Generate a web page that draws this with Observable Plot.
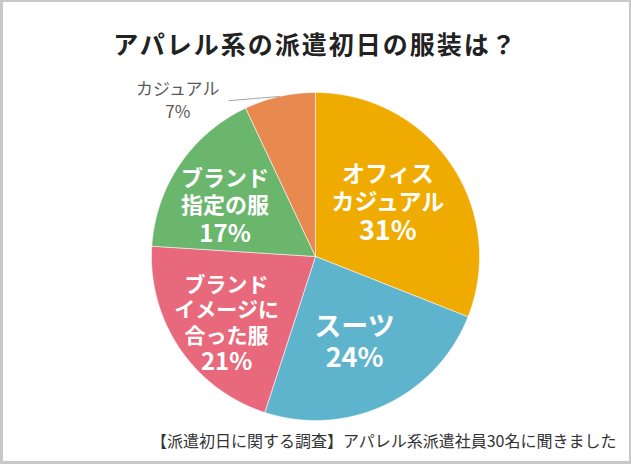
<!DOCTYPE html>
<html>
<head>
<meta charset="utf-8">
<script src="https://cdn.jsdelivr.net/npm/d3@7"></script>
<script src="https://cdn.jsdelivr.net/npm/@observablehq/plot@0.6"></script>
<style>
  html, body { margin: 0; padding: 0; background: #fff; }
  #wrap { position: relative; width: 631px; height: 464px; overflow: hidden; font-family: "Noto Sans CJK JP", sans-serif; }
  #wrap svg { position: absolute; left: 0; top: 0; }
  #title { position: absolute; left: 0; width: 631px; top: 27px; text-align: center; font-size: 25px; font-weight: bold; color: #222; letter-spacing: 2px; line-height: 32px; }
  #caption { position: absolute; left: 151px; top: 429px; font-size: 16px; color: #333; line-height: 22px; white-space: nowrap; }
  #border { position: absolute; left: 0; top: 0; width: 631px; height: 464px; box-sizing: border-box; border: 2px solid #c8c8c8; border-left-width: 3px; border-bottom-width: 3px; pointer-events: none; }
</style>
</head>
<body>
<div id="wrap">
  <div id="chart"></div>
  <div id="title">アパレル系の派遣初日の服装は？</div>
  <div id="caption">【派遣初日に関する調査】アパレル系派遣社員30名に聞きました</div>
  <div id="border"></div>
</div>
<script>
// ---- data ----
const categories = ["オフィスカジュアル", "スーツ", "ブランドイメージに合った服", "ブランド指定の服", "カジュアル"];
const values = [31, 24, 21, 17, 7];
const labelLines = [
  ["オフィス", "カジュアル"],
  ["スーツ"],
  ["ブランド", "イメージに", "合った服"],
  ["ブランド", "指定の服"],
  ["カジュアル"]
];
const percentLabels = ["31%", "24%", "21%", "17%", "7%"];
const colors = ["#F0AB00", "#5EB4CD", "#E8697C", "#6AB66D", "#E8894F"];

// ---- layout (styles / positions, not data) ----
const R = 164, CX = 315, CY = 256;
const labelRadius = [0.56, 0.56, 0.67, 0.64, 1.28];
const labelAngleDeg = [52, null, 234, 300.5, 319];   // label placement angles (null = slice middle)
const lineGap = [28, 31, 25.5, 27.5, 23];
const nameSize = [23, 27, 21, 22, 17];
const pctSize = [27, 27, 24, 24, 17];
const labelColor = ["#fff", "#fff", "#fff", "#fff", "#595959"];
const labelWeight = ["bold", "bold", "bold", "bold", "normal"];

// ---- build pie geometry from values ----
const arcs = d3.pie().sort(null).value(d => d)(values);
const slicePoints = [];
arcs.forEach((a, i) => {
  slicePoints.push({cat: categories[i], x: 0, y: 0});
  const n = Math.max(2, Math.ceil((a.endAngle - a.startAngle) / 0.005));
  for (let k = 0; k <= n; k++) {
    const t = a.startAngle + (a.endAngle - a.startAngle) * k / n;
    slicePoints.push({cat: categories[i], x: Math.sin(t), y: Math.cos(t)});
  }
  slicePoints.push({cat: categories[i], x: 0, y: 0});
});

// ---- one label block per slice ----
const labelRows = arcs.map((a, i) => {
  const mid = labelAngleDeg[i] != null ? labelAngleDeg[i] * Math.PI / 180 : (a.startAngle + a.endAngle) / 2;
  return {
    text: [...labelLines[i], percentLabels[i]].join("\n"),
    x: Math.sin(mid) * labelRadius[i],
    y: Math.cos(mid) * labelRadius[i]
  };
});

// leader line for the small outside slice
const casual = arcs[4];
const casualMid = (casual.startAngle + casual.endAngle) / 2;
const leader = [{x1: Math.sin(casualMid), y1: Math.cos(casualMid), x2: -0.53, y2: 0.95}];

const plot = Plot.plot({
  width: 631,
  height: 464,
  margin: 0,
  x: {domain: [-1, 1], range: [CX - R, CX + R], axis: null},
  y: {domain: [-1, 1], range: [CY + R, CY - R], axis: null},
  color: {domain: categories, range: colors},
  style: {background: "transparent"},
  marks: [
    Plot.line(slicePoints, {x: "x", y: "y", z: "cat", fill: "cat", stroke: "#ffffff", strokeWidth: 0.8, strokeOpacity: 0.7, curve: "linear"}),
    Plot.link(leader, {x1: "x1", y1: "y1", x2: "x2", y2: "y2", stroke: "#a6a6a6", strokeWidth: 1}),
    ...labelRows.map((row, i) => Plot.text([row], {
      x: "x", y: "y", text: "text",
      fontSize: nameSize[i],
      lineHeight: lineGap[i] / nameSize[i],
      fill: labelColor[i],
      fontWeight: labelWeight[i],
      fontFamily: "Noto Sans CJK JP",
      textAnchor: "middle",
      lineAnchor: "middle"
    }))
  ]
});

// style the percentage line of each block (bigger font) and keep even spacing
const textGroups = d3.select(plot).selectAll('g[aria-label="text"]').nodes();
textGroups.forEach((g, i) => {
  d3.select(g).selectAll("text").each(function() {
    const tspans = d3.select(this).selectAll("tspan").nodes();
    const n = tspans.length;
    if (n > 1) {
      const first = -((n - 1) / 2) * lineGap[i];
      tspans.forEach((t, j) => {
        d3.select(t)
          .attr("y", null)
          .attr("dominant-baseline", null)
          .attr("dy", j === 0 ? `${first}px` : `${lineGap[i]}px`);
      });
      d3.select(this).attr("y", null);
      d3.select(tspans[n - 1]).attr("font-size", pctSize[i]).attr("font-weight", labelWeight[i]);
      d3.select(this).attr("dominant-baseline", "central");
    }
  });
});

document.getElementById("chart").appendChild(plot);
</script>
</body>
</html>
